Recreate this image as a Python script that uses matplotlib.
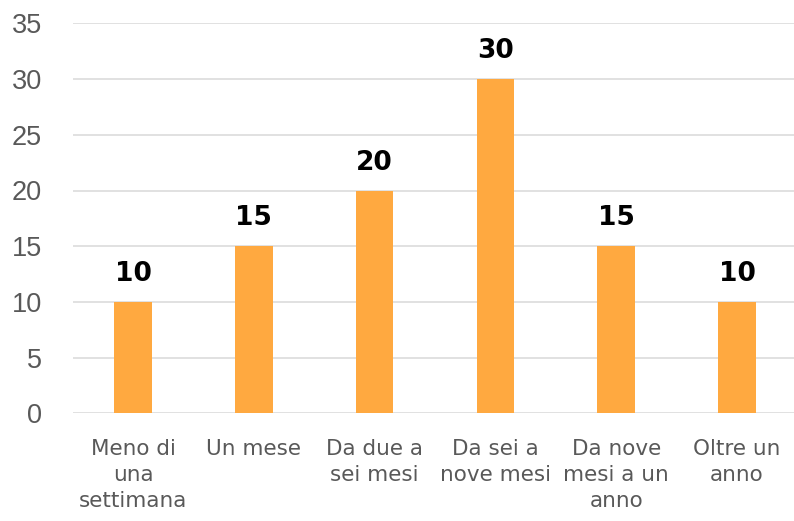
import matplotlib.pyplot as plt
import numpy as np

categories = ["Meno di\nuna\nsettimana", "Un mese", "Da due a\nsei mesi",
              "Da sei a\nnove mesi", "Da nove\nmesi a un\nanno", "Oltre un\nanno"]
values = [10, 15, 20, 30, 15, 10]
y_ticks = [0, 5, 10, 15, 20, 25, 30, 35]

bar_color = "#FFA940"
grid_color = "#D9D9D9"
text_gray = "#595959"

fig = plt.figure(figsize=(7.94, 5.21), dpi=100)
ax = fig.add_axes([72.6 / 794, 107.7 / 521, 724.8 / 794, 389.9 / 521])

x = np.arange(len(categories))
ax.bar(x, values, width=0.31, color=bar_color, zorder=3)

# value labels above each bar
for xi, v in zip(x, values):
    ax.annotate(str(v), (xi, v), xytext=(0, 15), textcoords="offset points",
                ha="center", va="baseline", fontsize=19, fontweight="bold",
                family="DejaVu Sans", color="black")

ax.set_xlim(-0.5, len(categories) - 0.5)
ax.set_ylim(0, 35)
ax.set_yticks(y_ticks)
ax.yaxis.grid(True, color=grid_color, linewidth=1.1, zorder=0)
ax.set_axisbelow(True)

ax.set_xticks(x)
ax.set_xticklabels(categories, fontsize=15.5, color=text_gray,
                   family="DejaVu Sans", linespacing=1.37)
for lbl in ax.get_yticklabels():
    lbl.set_family("Liberation Sans")
    lbl.set_fontsize(19.5)
    lbl.set_color(text_gray)

ax.tick_params(axis="y", length=0, pad=22)
ax.tick_params(axis="x", length=0, pad=18.5)
for side in ["top", "right", "left", "bottom"]:
    ax.spines[side].set_visible(False)

fig.savefig("out.png", dpi=100)
